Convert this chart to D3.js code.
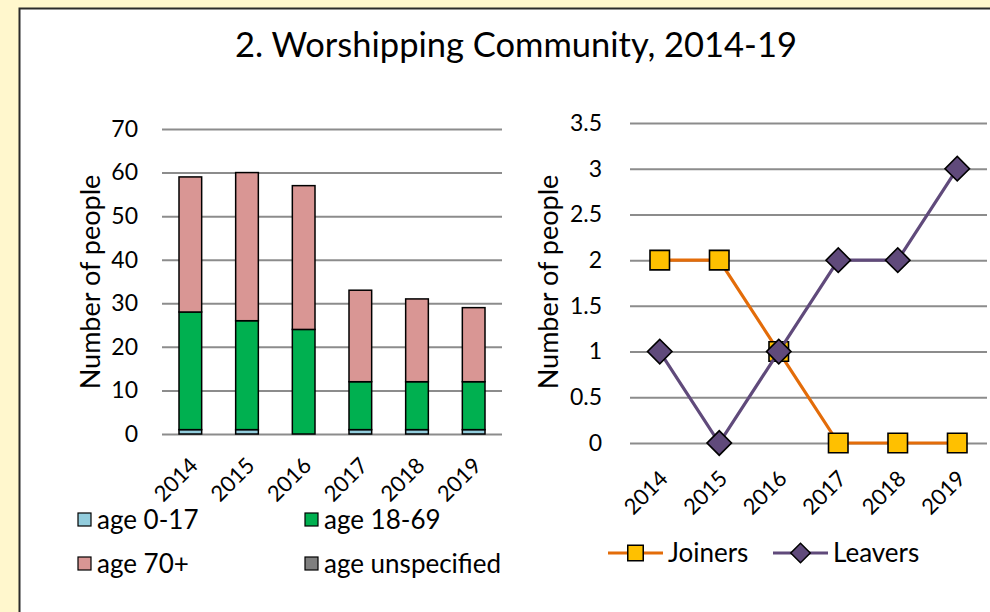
<!DOCTYPE html>
<html>
<head>
<meta charset="utf-8">
<script src="https://cdn.jsdelivr.net/npm/d3@7/dist/d3.min.js"></script>
<style>
  html, body { margin: 0; padding: 0; background: #FFF7CD; }
  svg { display: block; }
  text { font-family: Lato, "Open Sans", sans-serif; fill: #000; }
</style>
</head>
<body>
<svg id="chart" width="990" height="612"></svg>
<script>
// Worshipping community by age band, and joiners / leavers, 2014-19
const years = ["2014", "2015", "2016", "2017", "2018", "2019"];
const age0to17 = [1, 1, 0, 1, 1, 1];
const age18to69 = [27, 25, 24, 11, 11, 11];
const age70plus = [31, 34, 33, 21, 19, 17];
const ageUnspecified = [0, 0, 0, 0, 0, 0];
const joiners = [2, 2, 1, 0, 0, 0];
const leavers = [1, 0, 1, 2, 2, 3];
const barTicks = [0, 10, 20, 30, 40, 50, 60, 70];
const lineTicks = [0, 0.5, 1, 1.5, 2, 2.5, 3, 3.5];

const ageSeries = [
  { key: "age 0-17", values: age0to17, color: "#93CDDD" },
  { key: "age 18-69", values: age18to69, color: "#00B050" },
  { key: "age 70+", values: age70plus, color: "#D99694" },
  { key: "age unspecified", values: ageUnspecified, color: "#7F7F7F" }
];
const flowSeries = [
  { key: "Joiners", values: joiners, line: "#E36C09", fill: "#FFC000", shape: "square" },
  { key: "Leavers", values: leavers, line: "#604A7B", fill: "#604A7B", shape: "diamond" }
];

const svg = d3.select("#chart");
const gridColor = "#8C8C8C";
const tickFont = 23;
const yearFont = 22;

// white panel with dark frame
svg.append("rect")
  .attr("x", 19.5).attr("y", 8.5)
  .attr("width", 1000).attr("height", 640)
  .attr("fill", "#fff").attr("stroke", "#2b2b2b").attr("stroke-width", 2);

svg.append("text")
  .attr("x", 516).attr("y", 57)
  .attr("text-anchor", "middle")
  .attr("font-size", 34.5)
  .text("2. Worshipping Community, 2014-19");

// ---------- left: stacked bars ----------
const xBar = d3.scaleBand().domain(years).range([162, 502]).paddingInner(0.6).paddingOuter(0.3);
const yBar = d3.scaleLinear().domain([0, 70]).range([434, 129]);

const gBarAxis = svg.append("g").attr("transform", "translate(162,0)")
  .call(d3.axisLeft(yBar).tickValues(barTicks).tickSize(-340).tickPadding(24).tickFormat(d3.format("d")));
gBarAxis.select(".domain").remove();
gBarAxis.selectAll(".tick line").attr("stroke", gridColor).attr("stroke-width", 2);
gBarAxis.selectAll(".tick text").attr("font-size", tickFont).attr("font-family", "Lato, sans-serif").attr("fill", "#000");

const stackData = years.map((y, i) => {
  const o = { year: y };
  ageSeries.forEach(s => { o[s.key] = s.values[i]; });
  return o;
});
const stacked = d3.stack().keys(ageSeries.map(s => s.key))(stackData);

svg.append("g").selectAll("g")
  .data(stacked)
  .join("g")
  .attr("fill", (d, i) => ageSeries[i].color)
  .selectAll("rect")
  .data(d => d.filter(p => p[1] - p[0] > 0))
  .join("rect")
  .attr("x", d => xBar(d.data.year))
  .attr("width", xBar.bandwidth())
  .attr("y", d => yBar(d[1]))
  .attr("height", d => yBar(d[0]) - yBar(d[1]))
  .attr("stroke", "#000").attr("stroke-width", 1.5);

const gBarX = svg.append("g").attr("transform", "translate(0,434)")
  .call(d3.axisBottom(xBar).tickSize(0).tickPadding(0));
gBarX.select(".domain").remove();
gBarX.selectAll(".tick text")
  .attr("font-size", yearFont).attr("font-family", "Lato, sans-serif").attr("fill", "#000")
  .attr("text-anchor", "end")
  .attr("dy", 0)
  .attr("transform", "translate(9,33) rotate(-45)");

svg.append("text")
  .attr("transform", "translate(100,282) rotate(-90)")
  .attr("text-anchor", "middle")
  .attr("font-size", 27)
  .text("Number of people");

// legend for bars
const barLegendPos = [[78, 520], [305, 520], [78, 564], [305, 564]];
const barLegend = svg.append("g").selectAll("g")
  .data(ageSeries)
  .join("g")
  .attr("transform", (d, i) => `translate(${barLegendPos[i][0]},${barLegendPos[i][1]})`);
barLegend.append("rect")
  .attr("x", 0).attr("y", -7).attr("width", 13).attr("height", 13)
  .attr("fill", d => d.color).attr("stroke", "#000").attr("stroke-width", 1.2);
barLegend.append("text")
  .attr("x", 19).attr("y", 9)
  .attr("font-size", 26)
  .text(d => d.key);

// ---------- right: joiners and leavers ----------
const xLine = d3.scalePoint().domain(years).range([630, 987]).padding(0.5);
const yLine = d3.scaleLinear().domain([0, 3.5]).range([443, 123]);

const gLineAxis = svg.append("g").attr("transform", "translate(630,0)")
  .call(d3.axisLeft(yLine).tickValues(lineTicks).tickSize(-357).tickPadding(28).tickFormat(d3.format("")));
gLineAxis.select(".domain").remove();
gLineAxis.selectAll(".tick line").attr("stroke", gridColor).attr("stroke-width", 2);
gLineAxis.selectAll(".tick text").attr("font-size", tickFont).attr("font-family", "Lato, sans-serif").attr("fill", "#000");

const gLineX = svg.append("g").attr("transform", "translate(0,443)")
  .call(d3.axisBottom(xLine).tickSize(0).tickPadding(0));
gLineX.select(".domain").remove();
gLineX.selectAll(".tick text")
  .attr("font-size", yearFont).attr("font-family", "Lato, sans-serif").attr("fill", "#000")
  .attr("text-anchor", "end")
  .attr("dy", 0)
  .attr("transform", "translate(9,37) rotate(-45)");

svg.append("text")
  .attr("transform", "translate(558,282) rotate(-90)")
  .attr("text-anchor", "middle")
  .attr("font-size", 27)
  .text("Number of people");

const line = d3.line().x((d, i) => xLine(years[i])).y(d => yLine(d));
const squareSym = d3.symbol().type(d3.symbolSquare).size(380);
const diamondSym = d3.symbol().type(d3.symbolSquare).size(300);

function drawMarker(sel, s) {
  if (s.shape === "square") {
    sel.append("path").attr("d", squareSym());
  } else {
    sel.append("path").attr("d", diamondSym()).attr("transform", "rotate(45)");
  }
  sel.selectAll("path").attr("fill", s.fill).attr("stroke", "#000").attr("stroke-width", 1.6);
}

flowSeries.forEach(s => {
  const g = svg.append("g");
  g.append("path")
    .attr("d", line(s.values))
    .attr("fill", "none").attr("stroke", s.line).attr("stroke-width", 3.2);
  g.selectAll("g.marker")
    .data(s.values)
    .join("g")
    .attr("class", "marker")
    .attr("transform", (d, i) => `translate(${xLine(years[i])},${yLine(d)})`)
    .each(function () { drawMarker(d3.select(this), s); });
});

// legend for lines
const lineLegendX = [608, 773];
const lineLegend = svg.append("g").selectAll("g")
  .data(flowSeries)
  .join("g")
  .attr("transform", (d, i) => `translate(${lineLegendX[i]},553)`);
lineLegend.append("line")
  .attr("x1", 0).attr("x2", 55).attr("y1", 0).attr("y2", 0)
  .attr("stroke", d => d.line).attr("stroke-width", 3.2);
lineLegend.each(function (s) {
  const m = d3.select(this).append("g").attr("transform", "translate(27.5,0)");
  if (s.shape === "square") {
    m.append("path").attr("d", d3.symbol().type(d3.symbolSquare).size(240)());
  } else {
    m.append("path").attr("d", d3.symbol().type(d3.symbolSquare).size(190)()).attr("transform", "rotate(45)");
  }
  m.selectAll("path").attr("fill", s.fill).attr("stroke", "#000").attr("stroke-width", 1.5);
});
lineLegend.append("text")
  .attr("x", 60).attr("y", 9)
  .attr("font-size", 26)
  .text(d => d.key);
</script>
</body>
</html>
